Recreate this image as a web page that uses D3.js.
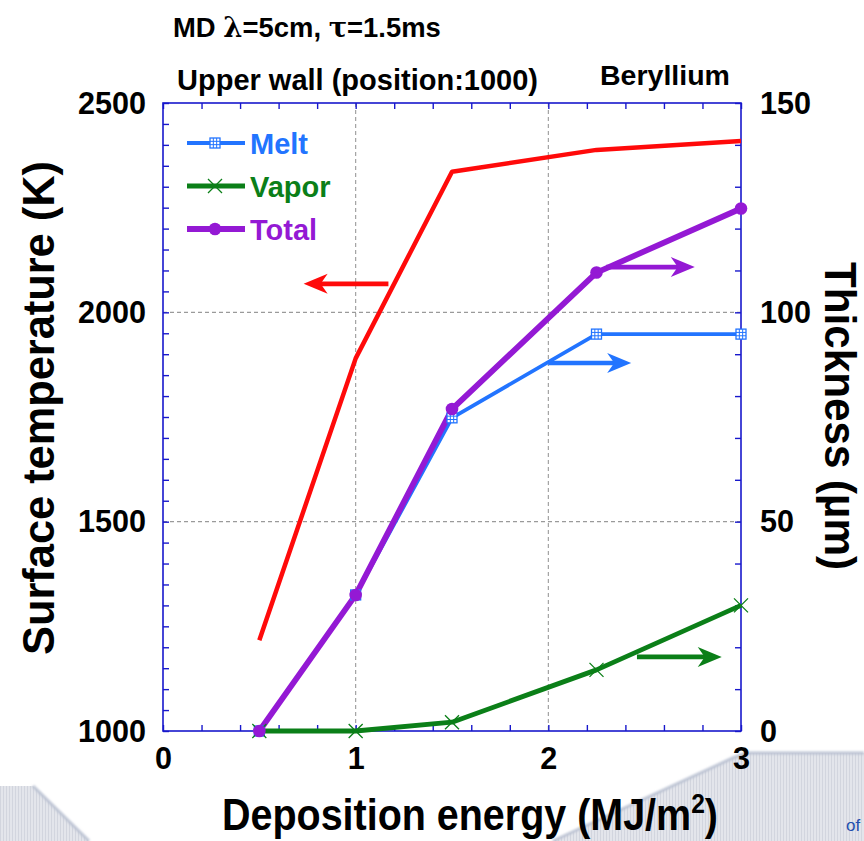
<!DOCTYPE html>
<html>
<head>
<meta charset="utf-8">
<script src="https://cdn.jsdelivr.net/npm/d3@7/dist/d3.min.js"></script>
<style>
  html, body { margin: 0; padding: 0; background: #ffffff; }
  svg { display: block; }
  text { font-family: "Liberation Sans", Arial, Helvetica, sans-serif; }
</style>
</head>
<body>
<svg id="chart" width="864" height="841"></svg>
<script>
// Deposition energy (MJ/m^2) at which each case was computed
const energy = [0.5, 1, 1.5, 2.25, 3];
// Surface temperature (K), left axis
const surfaceTemp = [1217, 1890, 2336, 2388, 2409];
// Thicknesses (µm), right axis
const meltThickness = [0, 32.5, 74.8, 94.8, 94.8];
const vaporThickness = [0, 0, 2.1, 14.6, 30.0];
const totalThickness = [0, 32.5, 76.9, 109.5, 124.8];

// Axis tick labels
const xTickLabels = [0, 1, 2, 3];
const tempTickLabels = [1000, 1500, 2000, 2500];
const thickTickLabels = [0, 50, 100, 150];

// Arrows showing which axis each curve belongs to (data units)
const arrowCurve = ["temp", "melt", "total", "vapor"];
const arrowFromX = [1.17, 2.0, 2.3, 2.46];
const arrowToX = [0.73, 2.43, 2.76, 2.9];
const arrowLevel = [2068, 87.9, 110.8, 17.7];

const colors = {
  temp: "#ff0a0a",
  melt: "#2274ff",
  vapor: "#0b7f18",
  total: "#9419d4",
  axis: "#1818cc"
};

const svg = d3.select("#chart");
const plot = { left: 163, right: 741, top: 103, bottom: 731 };

// ---- slide background decoration at the bottom ----
const defs = svg.append("defs");
const pat = defs.append("pattern").attr("id", "stripes")
  .attr("patternUnits", "userSpaceOnUse").attr("width", 3).attr("height", 10);
pat.append("rect").attr("width", 3).attr("height", 10).attr("fill", "#e3e5eb");
pat.append("rect").attr("width", 1).attr("height", 10).attr("fill", "#d2d5de");
defs.append("filter").attr("id", "soft").append("feGaussianBlur").attr("stdDeviation", 1.2);

svg.append("path")
  .attr("d", "M0,786 L33,786 L89,841 L0,841 Z")
  .attr("fill", "url(#stripes)");
svg.append("path")
  .attr("d", "M33,786 L89,841")
  .attr("stroke", "#bcc3d3").attr("stroke-width", 3).attr("fill", "none")
  .attr("filter", "url(#soft)");
svg.append("path")
  .attr("d", "M553,841 L733,758 L746,753 L864,753 L864,841 Z")
  .attr("fill", "url(#stripes)");
svg.append("path")
  .attr("d", "M553,841 L733,758 L746,753 L864,753")
  .attr("stroke", "#bcc3d3").attr("stroke-width", 3).attr("fill", "none")
  .attr("filter", "url(#soft)");
svg.append("text").attr("x", 846).attr("y", 831)
  .attr("font-size", 17).attr("fill", "#1f4fae").text("of");

// ---- scales ----
const x = d3.scaleLinear().domain([0, 3]).range([plot.left, plot.right]);
const yTemp = d3.scaleLinear().domain([1000, 2500]).range([plot.bottom, plot.top]);
const yThick = d3.scaleLinear().domain([0, 150]).range([plot.bottom, plot.top]);

// white plot area
svg.append("rect")
  .attr("x", plot.left).attr("y", plot.top)
  .attr("width", plot.right - plot.left).attr("height", plot.bottom - plot.top)
  .attr("fill", "#ffffff");

// ---- dashed grid ----
const grid = svg.append("g").attr("stroke", "#9a9a9a").attr("stroke-width", 1.1)
  .attr("stroke-dasharray", "4,3");
[1, 2].forEach(v => grid.append("line")
  .attr("x1", x(v)).attr("x2", x(v)).attr("y1", plot.top).attr("y2", plot.bottom));
[1500, 2000].forEach(v => grid.append("line")
  .attr("x1", plot.left).attr("x2", plot.right).attr("y1", yTemp(v)).attr("y2", yTemp(v)));

// ---- inward minor ticks on all four sides ----
function tickAxis(axis, tx, ty) {
  const g = svg.append("g").attr("transform", `translate(${tx},${ty})`).call(axis);
  g.select(".domain").remove();
  g.selectAll("line").attr("stroke", colors.axis).attr("stroke-width", 1.4);
  g.selectAll("text").remove();
  return g;
}
const xMinor = d3.range(0, 3.001, 0.2);
tickAxis(d3.axisBottom(x).tickValues(xMinor).tickSize(-6), 0, plot.bottom);
tickAxis(d3.axisTop(x).tickValues(xMinor).tickSize(-6), 0, plot.top);
tickAxis(d3.axisLeft(yTemp).tickValues(d3.range(1000, 2501, 50)).tickSize(-6), plot.left, 0);
tickAxis(d3.axisRight(yThick).tickValues(d3.range(0, 151, 10)).tickSize(-6), plot.right, 0);

// frame
svg.append("rect")
  .attr("x", plot.left).attr("y", plot.top)
  .attr("width", plot.right - plot.left).attr("height", plot.bottom - plot.top)
  .attr("fill", "none").attr("stroke", colors.axis).attr("stroke-width", 1.6);

// ---- tick labels (tall bold digits, about 17px per digit) ----
function labelAxis(axis, tx, ty) {
  const g = svg.append("g").attr("transform", `translate(${tx},${ty})`).call(axis);
  g.select(".domain").remove();
  g.selectAll("line").remove();
  g.selectAll("text")
    .attr("font-family", "'Liberation Sans', Arial, sans-serif")
    .attr("font-size", 32).attr("font-weight", "bold").attr("fill", "#000")
    .attr("textLength", function () { return this.textContent.length * 17; })
    .attr("lengthAdjust", "spacingAndGlyphs");
  return g;
}
labelAxis(d3.axisBottom(x).tickValues(xTickLabels).tickSize(0).tickPadding(15)
  .tickFormat(d3.format("d")), 0, plot.bottom);
labelAxis(d3.axisLeft(yTemp).tickValues(tempTickLabels).tickSize(0).tickPadding(17)
  .tickFormat(d3.format("d")), plot.left, 0);
labelAxis(d3.axisRight(yThick).tickValues(thickTickLabels).tickSize(0).tickPadding(19)
  .tickFormat(d3.format("d")), plot.right, 0);

// ---- text helper: squeeze a label to a given width ----
function fitText(sel, tx, ty, angle, width) {
  const w = sel.node().getComputedTextLength();
  const s = width / w;
  sel.attr("transform", `translate(${tx},${ty}) rotate(${angle}) scale(${s},1)`);
}

// axis titles
const xTitle = svg.append("text").attr("text-anchor", "middle")
  .attr("font-size", 45).attr("font-weight", "bold").attr("fill", "#000");
xTitle.append("tspan").text("Deposition energy (MJ/m");
xTitle.append("tspan").attr("font-size", 28).attr("dy", -17).text("2");
xTitle.append("tspan").attr("dy", 17).text(")");
fitText(xTitle, 470, 830, 0, 496);

const yTitle = svg.append("text").attr("text-anchor", "middle")
  .attr("font-size", 45).attr("font-weight", "bold").attr("fill", "#000")
  .text("Surface temperature (K)");
fitText(yTitle, 54, 408, -90, 494);

const y2Title = svg.append("text").attr("text-anchor", "middle")
  .attr("font-size", 45).attr("font-weight", "bold").attr("fill", "#000")
  .text("Thickness (µm)");
fitText(y2Title, 825, 416, 90, 308);

// headings
const head1 = svg.append("text").attr("font-size", 27).attr("font-weight", "bold").attr("fill", "#000");
head1.append("tspan").text("MD ");
head1.append("tspan").attr("font-family", "'DejaVu Serif', serif").text("λ");
head1.append("tspan").text("=5cm, ");
head1.append("tspan").attr("font-family", "'DejaVu Serif', serif").text("τ");
head1.append("tspan").text("=1.5ms");
fitText(head1, 173, 37, 0, 268);

const head2 = svg.append("text").attr("font-size", 29).attr("font-weight", "bold").attr("fill", "#000")
  .text("Upper wall (position:1000)");
fitText(head2, 177, 90, 0, 361);

const head3 = svg.append("text").attr("font-size", 28).attr("font-weight", "bold").attr("fill", "#000")
  .text("Beryllium");
fitText(head3, 600, 85, 0, 130);

// ---- curves ----
function series(vals) { return energy.map((e, i) => ({ x: e, y: vals[i] })); }
const lineTemp = d3.line().x(d => x(d.x)).y(d => yTemp(d.y));
const lineThick = d3.line().x(d => x(d.x)).y(d => yThick(d.y));

const curves = svg.append("g").attr("fill", "none")
  .attr("stroke-linejoin", "round").attr("stroke-linecap", "butt");

curves.append("path").attr("d", lineTemp(series(surfaceTemp)))
  .attr("stroke", colors.temp).attr("stroke-width", 4.5);
curves.append("path").attr("d", lineThick(series(meltThickness)))
  .attr("stroke", colors.melt).attr("stroke-width", 3.8);
curves.append("path").attr("d", lineThick(series(vaporThickness)))
  .attr("stroke", colors.vapor).attr("stroke-width", 4.8);
curves.append("path").attr("d", lineThick(series(totalThickness)))
  .attr("stroke", colors.total).attr("stroke-width", 5.8);

// markers
function gridSquare(g, cx, cy) {
  const s = 10;
  g.append("rect").attr("x", cx - s / 2).attr("y", cy - s / 2).attr("width", s).attr("height", s)
    .attr("fill", "#ffffff").attr("stroke", colors.melt).attr("stroke-width", 1.3);
  [-s / 6, s / 6].forEach(o => {
    g.append("line").attr("x1", cx + o).attr("x2", cx + o).attr("y1", cy - s / 2).attr("y2", cy + s / 2)
      .attr("stroke", colors.melt).attr("stroke-width", 1);
    g.append("line").attr("y1", cy + o).attr("y2", cy + o).attr("x1", cx - s / 2).attr("x2", cx + s / 2)
      .attr("stroke", colors.melt).attr("stroke-width", 1);
  });
}
function crossMark(g, cx, cy) {
  const r = 7;
  g.append("path")
    .attr("d", `M${cx - r},${cy - r}L${cx + r},${cy + r}M${cx - r},${cy + r}L${cx + r},${cy - r}`)
    .attr("stroke", colors.vapor).attr("stroke-width", 1.3).attr("fill", "none");
}
function dotMark(g, cx, cy) {
  g.append("circle").attr("cx", cx).attr("cy", cy).attr("r", 6.3).attr("fill", colors.total);
}

const marks = svg.append("g");
series(meltThickness).forEach(d => gridSquare(marks, x(d.x), yThick(d.y)));
series(vaporThickness).forEach(d => crossMark(marks, x(d.x), yThick(d.y)));
series(totalThickness).forEach(d => dotMark(marks, x(d.x), yThick(d.y)));

// ---- axis arrows ----
const arrows = svg.append("g");
arrowCurve.forEach((c, i) => {
  const yy = c === "temp" ? yTemp(arrowLevel[i]) : yThick(arrowLevel[i]);
  const x0 = x(arrowFromX[i]), x1 = x(arrowToX[i]);
  const dir = Math.sign(x1 - x0);
  const col = colors[c];
  arrows.append("line").attr("x1", x0).attr("x2", x1 - dir * 14)
    .attr("y1", yy).attr("y2", yy).attr("stroke", col).attr("stroke-width", 4.6);
  arrows.append("path")
    .attr("d", `M${x1},${yy}L${x1 - dir * 24},${yy - 10}L${x1 - dir * 17},${yy}L${x1 - dir * 24},${yy + 10}Z`)
    .attr("fill", col);
});

// ---- legend ----
const legendItems = [
  { name: "Melt", key: "melt", width: 3.8, mark: gridSquare },
  { name: "Vapor", key: "vapor", width: 4.8, mark: crossMark },
  { name: "Total", key: "total", width: 5.8, mark: dotMark }
];
const legend = svg.append("g");
legendItems.forEach((it, i) => {
  const ly = 143 + i * 43;
  legend.append("line").attr("x1", 187).attr("x2", 245).attr("y1", ly).attr("y2", ly)
    .attr("stroke", colors[it.key]).attr("stroke-width", it.width);
  it.mark(legend, 215, ly);
  legend.append("text").attr("x", 250).attr("y", ly + 11)
    .attr("font-size", 29).attr("font-weight", "bold").attr("fill", colors[it.key])
    .text(it.name);
});
</script>
</body>
</html>
